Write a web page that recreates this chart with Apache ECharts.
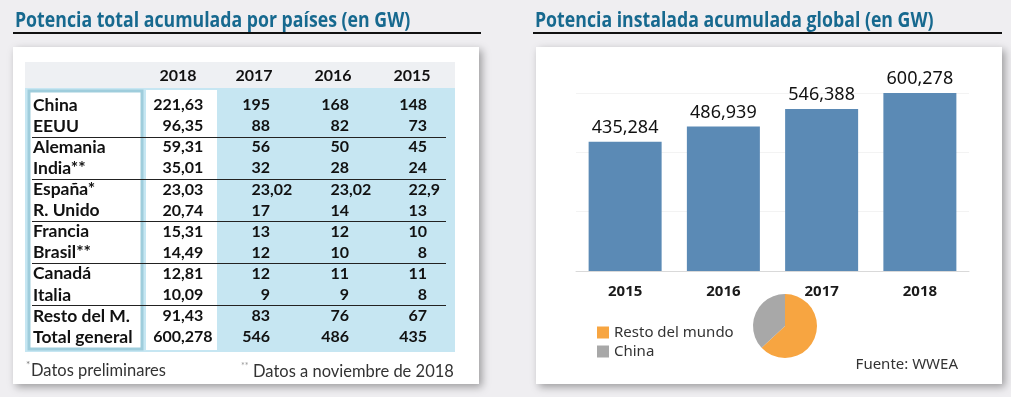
<!DOCTYPE html>
<html>
<head>
    <meta charset="utf-8"/>
    <title>Potencia eólica</title>
    <script src="https://cdn.jsdelivr.net/npm/echarts@6/dist/echarts.min.js"></script>
    <style>
        html, body { margin: 0; padding: 0; background: #efeef1; }
    </style>
</head>
<body>
<div id="main" style="width: 1011px;height:397px;"></div>
<script type="text/javascript">
    // tabla de la izquierda
    var tableYears = ['2018', '2017', '2016', '2015'];
    var countries = ['China', 'EEUU', 'Alemania', 'India**', 'España*', 'R. Unido',
        'Francia', 'Brasil**', 'Canadá', 'Italia', 'Resto del M.', 'Total general'];
    var v2018 = [221.63, 96.35, 59.31, 35.01, 23.03, 20.74, 15.31, 14.49, 12.81, 10.09, 91.43, 600.278];
    var v2017 = [195, 88, 56, 32, 23.02, 17, 13, 12, 12, 9, 83, 546];
    var v2016 = [168, 82, 50, 28, 23.02, 14, 12, 10, 11, 9, 76, 486];
    var v2015 = [148, 73, 45, 24, 22.9, 13, 10, 8, 11, 8, 67, 435];

    // grafico de la derecha
    var barYears = ['2015', '2016', '2017', '2018'];
    var globalGW = [435.284, 486.939, 546.388, 600.278];
    var pieNames = ['Resto del mundo', 'China'];
    var pieValues = [378.648, 221.63];

    var titleColor = '#17698f';
    var fontT = 'Lato';

    function fmt(v) {
        return String(v).replace('.', ',');
    }

    var g = [];
    // paneles blancos
    [13, 536].forEach(function (x) {
        g.push({
            type: 'rect', z: -10,
            shape: {x: x, y: 47, width: 466, height: 337},
            style: {fill: '#ffffff', shadowBlur: 8, shadowOffsetX: 3, shadowOffsetY: 3, shadowColor: 'rgba(0,0,0,0.35)'}
        });
    });
    // titulos (fuente estrecha: se comprime en horizontal)
    g.push({type: 'text', x: 15, y: 21, scaleX: 0.805, style: {text: 'Potencia total acumulada por países (en GW)', font: 'bold 22px "Open Sans"', fill: titleColor, verticalAlign: 'middle', textVerticalAlign: 'middle'}});
    g.push({type: 'text', x: 535, y: 21, scaleX: 0.805, style: {text: 'Potencia instalada acumulada global (en GW)', font: 'bold 22px "Open Sans"', fill: titleColor, verticalAlign: 'middle', textVerticalAlign: 'middle'}});
    g.push({type: 'rect', shape: {x: 13, y: 32, width: 468, height: 2}, style: {fill: '#111'}});
    g.push({type: 'rect', shape: {x: 533, y: 32, width: 469, height: 2}, style: {fill: '#111'}});

    // tabla
    var rowY0 = 105, rowH = 21.1;
    g.push({type: 'rect', shape: {x: 25, y: 62, width: 430, height: 26}, style: {fill: '#eef0f3'}});
    g.push({type: 'rect', shape: {x: 25, y: 88, width: 430, height: 264}, style: {fill: '#c6e6f2'}});
    g.push({type: 'rect', shape: {x: 29, y: 91, width: 113, height: 258}, style: {fill: '#ffffff', stroke: '#9fcddc', lineWidth: 3}});
    g.push({type: 'rect', shape: {x: 146, y: 90, width: 71, height: 260}, style: {fill: '#ffffff'}});

    var headX = [178, 254, 333, 412];
    tableYears.forEach(function (t, i) {
        g.push({type: 'text', x: headX[i], y: 76, style: {text: t, font: 'bold 16px ' + fontT, fill: '#111', align: 'center', textAlign: 'center', verticalAlign: 'middle', textVerticalAlign: 'middle'}});
    });

    var cols = [v2018, v2017, v2016, v2015];
    var decX = [181, 270, 349, 427];
    countries.forEach(function (c, r) {
        var y = rowY0 + r * rowH;
        g.push({type: 'text', x: 33, y: y, style: {text: c, font: 'bold 17.5px ' + fontT, fill: '#111', verticalAlign: 'middle', textVerticalAlign: 'middle'}});
        cols.forEach(function (col, k) {
            var parts = fmt(col[r]).split(',');
            g.push({type: 'text', x: decX[k], y: y, style: {text: parts[0], font: 'bold 16px ' + fontT, fill: '#111', align: 'right', textAlign: 'right', verticalAlign: 'middle', textVerticalAlign: 'middle'}});
            if (parts.length > 1) {
                g.push({type: 'text', x: decX[k], y: y, style: {text: ',' + parts[1], font: 'bold 16px ' + fontT, fill: '#111', align: 'left', textAlign: 'left', verticalAlign: 'middle', textVerticalAlign: 'middle'}});
            }
        });
        if (r % 2 === 1 && r < countries.length - 1) {
            var ly = Math.round(y + rowH / 2) + 0.5;
            g.push({type: 'line', shape: {x1: 32, y1: ly, x2: 446, y2: ly}, style: {stroke: '#222', lineWidth: 1}});
        }
    });

    // notas
    g.push({type: 'text', x: 26, y: 365, style: {text: '*', font: '10px ' + fontT, fill: '#777', verticalAlign: 'middle', textVerticalAlign: 'middle'}});
    g.push({type: 'text', x: 31, y: 371, style: {text: 'Datos preliminares', font: '16.5px ' + fontT, fill: '#333', verticalAlign: 'middle', textVerticalAlign: 'middle'}});
    g.push({type: 'text', x: 241, y: 366, style: {text: '**', font: '9px ' + fontT, fill: '#999', verticalAlign: 'middle', textVerticalAlign: 'middle'}});
    g.push({type: 'text', x: 253, y: 372, style: {text: 'Datos a noviembre de 2018', font: '16.5px ' + fontT, fill: '#333', verticalAlign: 'middle', textVerticalAlign: 'middle'}});

    g.push({type: 'text', x: 958, y: 365, style: {text: 'Fuente: WWEA', font: '15px "Noto Sans"', fill: '#333', align: 'right', textAlign: 'right', verticalAlign: 'middle', textVerticalAlign: 'middle'}});

    var myChart = echarts.init(document.getElementById('main'));
    var option = {
        backgroundColor: '#efeef1',
        animation: false,
        graphic: g,
        grid: {left: 576, right: 42, top: 93, bottom: 126},
        xAxis: {
            type: 'category',
            data: barYears,
            axisLine: {lineStyle: {color: '#d9d9d9'}},
            axisTick: {show: false},
            axisLabel: {margin: 13, color: '#1a1a1a', fontFamily: 'Noto Sans', fontWeight: 'bold', fontSize: 15}
        },
        yAxis: {
            type: 'value',
            min: 0, max: 600, interval: 200,
            axisLabel: {show: false},
            axisLine: {show: false},
            axisTick: {show: false},
            splitLine: {lineStyle: {color: '#f3f3f3'}}
        },
        legend: {
            orient: 'vertical',
            left: 592, top: 320,
            data: pieNames,
            icon: 'rect',
            itemWidth: 12, itemHeight: 12, itemGap: 4,
            textStyle: {fontFamily: 'Noto Sans', fontSize: 15, color: '#333'}
        },
        series: [{
            type: 'bar',
            data: globalGW,
            barWidth: 73,
            clip: false,
            itemStyle: {color: '#5b8ab5'},
            label: {
                show: true, position: 'top', distance: 5,
                fontFamily: 'Noto Sans', fontSize: 18, color: '#111',
                formatter: function (p) { return fmt(p.value); }
            }
        }, {
            type: 'pie',
            center: [785, 326],
            radius: 32,
            startAngle: 90,
            label: {show: false},
            labelLine: {show: false},
            data: pieNames.map(function (n, i) {
                return {name: n, value: pieValues[i]};
            }),
            color: ['#f7a541', '#a8a8a8']
        }]
    };
    myChart.setOption(option);
</script>
</body>
</html>
